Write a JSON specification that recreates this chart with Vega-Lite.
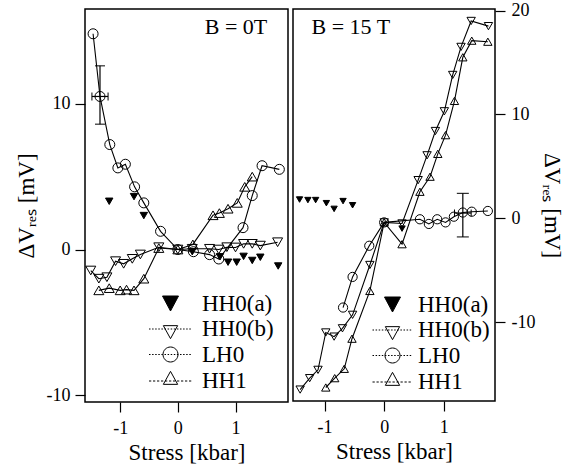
{
  "$schema": "https://vega.github.io/schema/vega-lite/v6.json",
  "background": "white",
  "padding": {"left": 14, "top": 0, "right": 0, "bottom": 0},
  "spacing": 5,
  "bounds": "flush",
  "datasets": {
    "pts": [
      {"panel":"0T","series":"HH0(a)","x":-1.19,"y":3.31},
      {"panel":"0T","series":"HH0(a)","x":-0.76,"y":3.63},
      {"panel":"0T","series":"HH0(a)","x":-0.59,"y":2.33},
      {"panel":"0T","series":"HH0(a)","x":0.25,"y":-0.15},
      {"panel":"0T","series":"HH0(a)","x":0.73,"y":-0.5},
      {"panel":"0T","series":"HH0(a)","x":0.87,"y":-0.87},
      {"panel":"0T","series":"HH0(a)","x":1.02,"y":-0.87},
      {"panel":"0T","series":"HH0(a)","x":1.14,"y":-0.47},
      {"panel":"0T","series":"HH0(a)","x":1.29,"y":-0.75},
      {"panel":"0T","series":"HH0(a)","x":1.43,"y":-0.53},
      {"panel":"0T","series":"HH0(a)","x":1.74,"y":-1.13},
      {"panel":"0T","series":"HH0(b)","x":-1.51,"y":-1.44},
      {"panel":"0T","series":"HH0(b)","x":-1.37,"y":-2.0},
      {"panel":"0T","series":"HH0(b)","x":-1.23,"y":-1.9},
      {"panel":"0T","series":"HH0(b)","x":-1.08,"y":-0.8},
      {"panel":"0T","series":"HH0(b)","x":-0.94,"y":-0.98},
      {"panel":"0T","series":"HH0(b)","x":-0.79,"y":-0.64},
      {"panel":"0T","series":"HH0(b)","x":-0.65,"y":-0.34},
      {"panel":"0T","series":"HH0(b)","x":-0.33,"y":0.16},
      {"panel":"0T","series":"HH0(b)","x":0,"y":0},
      {"panel":"0T","series":"HH0(b)","x":0.25,"y":0.05},
      {"panel":"0T","series":"HH0(b)","x":0.55,"y":0.05},
      {"panel":"0T","series":"HH0(b)","x":0.71,"y":0},
      {"panel":"0T","series":"HH0(b)","x":0.85,"y":0.16},
      {"panel":"0T","series":"HH0(b)","x":1.0,"y":0.14},
      {"panel":"0T","series":"HH0(b)","x":1.14,"y":0.39},
      {"panel":"0T","series":"HH0(b)","x":1.29,"y":0.39},
      {"panel":"0T","series":"HH0(b)","x":1.43,"y":0.27},
      {"panel":"0T","series":"HH0(b)","x":1.73,"y":0.5},
      {"panel":"0T","series":"LH0","x":-1.47,"y":14.8},
      {"panel":"0T","series":"LH0","x":-1.35,"y":10.5},
      {"panel":"0T","series":"LH0","x":-1.18,"y":7.2},
      {"panel":"0T","series":"LH0","x":-1.04,"y":5.6},
      {"panel":"0T","series":"LH0","x":-0.91,"y":5.85},
      {"panel":"0T","series":"LH0","x":-0.75,"y":4.3},
      {"panel":"0T","series":"LH0","x":-0.59,"y":3.2},
      {"panel":"0T","series":"LH0","x":-0.3,"y":1.25},
      {"panel":"0T","series":"LH0","x":0,"y":0},
      {"panel":"0T","series":"LH0","x":0.27,"y":-0.15},
      {"panel":"0T","series":"LH0","x":0.55,"y":-0.35},
      {"panel":"0T","series":"LH0","x":0.71,"y":-0.65},
      {"panel":"0T","series":"LH0","x":1.13,"y":1.5},
      {"panel":"0T","series":"LH0","x":1.29,"y":3.7},
      {"panel":"0T","series":"LH0","x":1.46,"y":5.75},
      {"panel":"0T","series":"LH0","x":1.76,"y":5.5},
      {"panel":"0T","series":"HH1","x":-1.37,"y":-2.8},
      {"panel":"0T","series":"HH1","x":-1.19,"y":-2.65},
      {"panel":"0T","series":"HH1","x":-1.0,"y":-2.8},
      {"panel":"0T","series":"HH1","x":-0.89,"y":-2.75},
      {"panel":"0T","series":"HH1","x":-0.76,"y":-2.8},
      {"panel":"0T","series":"HH1","x":-0.59,"y":-2.0},
      {"panel":"0T","series":"HH1","x":-0.33,"y":0.1},
      {"panel":"0T","series":"HH1","x":0,"y":0},
      {"panel":"0T","series":"HH1","x":0.26,"y":0.35},
      {"panel":"0T","series":"HH1","x":0.61,"y":2.35},
      {"panel":"0T","series":"HH1","x":0.72,"y":2.5},
      {"panel":"0T","series":"HH1","x":0.87,"y":2.8},
      {"panel":"0T","series":"HH1","x":1.03,"y":3.2},
      {"panel":"0T","series":"HH1","x":1.16,"y":4.3},
      {"panel":"0T","series":"HH1","x":1.29,"y":5.0},
      {"panel":"15T","series":"HH0(a)","x":-1.42,"y":1.8},
      {"panel":"15T","series":"HH0(a)","x":-1.28,"y":1.75},
      {"panel":"15T","series":"HH0(a)","x":-1.15,"y":1.75},
      {"panel":"15T","series":"HH0(a)","x":-0.97,"y":1.45},
      {"panel":"15T","series":"HH0(a)","x":-0.84,"y":0.9},
      {"panel":"15T","series":"HH0(a)","x":-0.69,"y":1.65},
      {"panel":"15T","series":"HH0(a)","x":-0.53,"y":1.25},
      {"panel":"15T","series":"HH0(a)","x":0.3,"y":-1.0},
      {"panel":"15T","series":"HH0(b)","x":-1.41,"y":-16.5},
      {"panel":"15T","series":"HH0(b)","x":-1.25,"y":-15.4},
      {"panel":"15T","series":"HH0(b)","x":-1.11,"y":-14.6},
      {"panel":"15T","series":"HH0(b)","x":-0.98,"y":-11.0},
      {"panel":"15T","series":"HH0(b)","x":-0.84,"y":-11.4},
      {"panel":"15T","series":"HH0(b)","x":-0.7,"y":-10.6},
      {"panel":"15T","series":"HH0(b)","x":-0.53,"y":-9.3},
      {"panel":"15T","series":"HH0(b)","x":-0.24,"y":-4.5},
      {"panel":"15T","series":"HH0(b)","x":0,"y":-0.4},
      {"panel":"15T","series":"HH0(b)","x":0.3,"y":-0.5},
      {"panel":"15T","series":"HH0(b)","x":0.57,"y":3.67},
      {"panel":"15T","series":"HH0(b)","x":0.72,"y":6.06},
      {"panel":"15T","series":"HH0(b)","x":0.86,"y":8.4},
      {"panel":"15T","series":"HH0(b)","x":1.01,"y":10.3},
      {"panel":"15T","series":"HH0(b)","x":1.15,"y":13.8},
      {"panel":"15T","series":"HH0(b)","x":1.29,"y":16.5},
      {"panel":"15T","series":"HH0(b)","x":1.46,"y":19.0},
      {"panel":"15T","series":"HH0(b)","x":1.75,"y":18.5},
      {"panel":"15T","series":"LH0","x":-0.69,"y":-8.6},
      {"panel":"15T","series":"LH0","x":-0.53,"y":-5.65},
      {"panel":"15T","series":"LH0","x":-0.25,"y":-2.65},
      {"panel":"15T","series":"LH0","x":0,"y":-0.4},
      {"panel":"15T","series":"LH0","x":0.6,"y":-0.1},
      {"panel":"15T","series":"LH0","x":0.75,"y":-0.55},
      {"panel":"15T","series":"LH0","x":0.89,"y":-0.1},
      {"panel":"15T","series":"LH0","x":1.03,"y":-0.4},
      {"panel":"15T","series":"LH0","x":1.17,"y":0.15},
      {"panel":"15T","series":"LH0","x":1.32,"y":0.55},
      {"panel":"15T","series":"LH0","x":1.47,"y":0.63},
      {"panel":"15T","series":"LH0","x":1.74,"y":0.7},
      {"panel":"15T","series":"HH1","x":-0.98,"y":-16.3},
      {"panel":"15T","series":"HH1","x":-0.83,"y":-15.4},
      {"panel":"15T","series":"HH1","x":-0.67,"y":-14.5},
      {"panel":"15T","series":"HH1","x":-0.54,"y":-11.6},
      {"panel":"15T","series":"HH1","x":-0.24,"y":-7.0},
      {"panel":"15T","series":"HH1","x":0,"y":-0.4},
      {"panel":"15T","series":"HH1","x":0.3,"y":-2.5},
      {"panel":"15T","series":"HH1","x":0.6,"y":2.55},
      {"panel":"15T","series":"HH1","x":0.77,"y":4.0},
      {"panel":"15T","series":"HH1","x":0.9,"y":6.2},
      {"panel":"15T","series":"HH1","x":1.03,"y":8.0},
      {"panel":"15T","series":"HH1","x":1.18,"y":11.3},
      {"panel":"15T","series":"HH1","x":1.32,"y":15.5},
      {"panel":"15T","series":"HH1","x":1.47,"y":17.1},
      {"panel":"15T","series":"HH1","x":1.74,"y":17.0}
    ],
    "err": [
      {"panel":"0T","x":-1.35,"y":10.5,"ylo":8.6,"yhi":12.6,"xlo":-1.49,"xhi":-1.21},
      {"panel":"15T","x":1.32,"y":0.5,"ylo":-1.8,"yhi":2.4,"xlo":1.18,"xhi":1.46}
    ]
  },
  "hconcat": [
    {
      "width": 203,
      "height": 393,
      "layer": [
        {
          "data": {"name": "pts"},
          "transform": [{"filter": "datum.panel==='0T' && datum.series!=='HH0(a)'"}],
          "mark": {"type": "line", "color": "black", "strokeWidth": 1.1},
          "encoding": {
            "x": {"field": "x", "type": "quantitative", "scale": {"domain": [-1.61, 1.91], "nice": false, "zero": false}, "axis": {"values": [-1, 0, 1], "labelExpr": "datum.value < 0 ? '-' + abs(datum.value) : '' + datum.value", "labelPadding": 7, "titlePadding": 4}, "title": "Stress [kbar]"},
            "y": {"field": "y", "type": "quantitative", "scale": {"domain": [-10.46, 16.5], "nice": false, "zero": false}, "axis": {"values": [-10, 0, 10], "labelExpr": "datum.value < 0 ? '-' + abs(datum.value) : '' + datum.value", "labelPadding": 5, "titlePadding": 8}, "title": "ΔVᵣₑₛ [mV]"},
            "detail": {"field": "series"}
          }
        },
        {
          "data": {"name": "pts"},
          "transform": [{"filter": "datum.panel==='0T'"}],
          "mark": {"type": "point", "filled": true, "stroke": "black", "strokeWidth": 1, "opacity": 1},
          "encoding": {
            "x": {"field": "x", "type": "quantitative", "scale": {"domain": [-1.61, 1.91], "nice": false, "zero": false}, "title": "Stress [kbar]"},
            "y": {"field": "y", "type": "quantitative", "scale": {"domain": [-10.46, 16.5], "nice": false, "zero": false}, "title": "ΔVᵣₑₛ [mV]"},
            "shape": {"condition": [{"test": "datum.series==='LH0'", "value": "circle"}, {"test": "datum.series==='HH1'", "value": "triangle-up"}], "value": "triangle-down"},
            "fill": {"condition": {"test": "datum.series==='HH0(a)'", "value": "black"}, "value": "transparent"},
            "size": {"condition": {"test": "datum.series==='HH0(a)'", "value": 55}, "value": 100}
          }
        },
        {
          "data": {"name": "pts"},
          "transform": [{"filter": "false"}],
          "mark": {"type": "point", "filled": true, "stroke": "black", "strokeWidth": 1, "opacity": 1},
          "encoding": {
            "x": {"field": "x", "type": "quantitative", "scale": {"domain": [-1.61, 1.91], "nice": false, "zero": false}, "title": "Stress [kbar]"},
            "y": {"field": "y", "type": "quantitative", "scale": {"domain": [-10.46, 16.5], "nice": false, "zero": false}, "title": "ΔVᵣₑₛ [mV]"},
            "shape": {
              "field": "series", "type": "nominal",
              "scale": {"domain": ["HH0(a)", "HH0(b)", "LH0", "HH1"], "range": [
                "M-1.6,-1.5L1.6,-1.5L0,1.5Z",
                "M-1.43,-0.67L1.43,-0.67L0,1.93ZM-4.3,0h0.3M-3.68,0h0.3M-3.06,0h0.3M-2.44,0h0.3M-1.82,0h0.3M-1.2,0h0.3M-0.58,0h0.3M0.04,0h0.3M0.66,0h0.3M1.28,0h0.3M1.9,0h0.3M2.52,0h0.3M3.14,0h0.3M3.76,0h0.3",
                "M-1.5,0A1.5,1.5,0,1,1,1.5,0A1.5,1.5,0,1,1,-1.5,0ZM-4.3,0h0.3M-3.68,0h0.3M-3.06,0h0.3M-2.44,0h0.3M-1.82,0h0.3M-1.2,0h0.3M-0.58,0h0.3M0.04,0h0.3M0.66,0h0.3M1.28,0h0.3M1.9,0h0.3M2.52,0h0.3M3.14,0h0.3M3.76,0h0.3",
                "M-1.43,0.67L1.43,0.67L0,-1.93ZM-4.3,0h0.45M-3.5,0h0.45M-2.7,0h0.45M-1.9,0h0.45M-1.1,0h0.45M-0.3,0h0.45M0.5,0h0.45M1.3,0h0.45M2.1,0h0.45M2.9,0h0.45M3.7,0h0.45"
              ]},
              "legend": {
                "orient": "none", "legendX": 74, "legendY": 283, "title": null, "padding": 0,
                "symbolSize": 100, "symbolStrokeWidth": 1, "labelOffset": 20, "rowPadding": 1.5,
                "labelFont": "Liberation Serif", "labelFontSize": 23, "labelColor": "black"
              }
            },
            "fill": {
              "field": "series", "type": "nominal",
              "scale": {"domain": ["HH0(a)", "HH0(b)", "LH0", "HH1"], "range": ["black", "transparent", "transparent", "transparent"]},
              "legend": {
                "orient": "none", "legendX": 74, "legendY": 283, "title": null, "padding": 0,
                "symbolSize": 100, "symbolStrokeWidth": 1, "labelOffset": 20, "rowPadding": 1.5,
                "labelFont": "Liberation Serif", "labelFontSize": 23, "labelColor": "black"
              }
            }
          }
        },
        {
          "data": {"name": "err"},
          "transform": [{"filter": "datum.panel==='0T'"}],
          "mark": {"type": "errorbar", "ticks": {"size": 10, "color": "black", "opacity": 1}, "rule": {"color": "black", "opacity": 1, "strokeWidth": 1.2}, "color": "black"},
          "encoding": {
            "x": {"field": "x", "type": "quantitative", "scale": {"domain": [-1.61, 1.91], "nice": false, "zero": false}, "title": "Stress [kbar]"},
            "y": {"field": "ylo", "type": "quantitative", "scale": {"domain": [-10.46, 16.5], "nice": false, "zero": false}, "title": "ΔVᵣₑₛ [mV]"},
            "y2": {"field": "yhi"}
          }
        },
        {
          "data": {"name": "err"},
          "transform": [{"filter": "datum.panel==='0T'"}],
          "mark": {"type": "errorbar", "ticks": {"size": 8, "color": "black", "opacity": 1}, "rule": {"color": "black", "opacity": 1, "strokeWidth": 1.2}, "color": "black"},
          "encoding": {
            "x": {"field": "xlo", "type": "quantitative", "scale": {"domain": [-1.61, 1.91], "nice": false, "zero": false}, "title": "Stress [kbar]"},
            "x2": {"field": "xhi"},
            "y": {"field": "y", "type": "quantitative", "scale": {"domain": [-10.46, 16.5], "nice": false, "zero": false}, "title": "ΔVᵣₑₛ [mV]"}
          }
        },
        {
          "data": {"values": [{"label": "B = 0T", "x": 1.55, "y": 14.8}]},
          "mark": {"type": "text", "align": "right", "baseline": "alphabetic", "font": "Liberation Serif", "fontSize": 22, "color": "black"},
          "encoding": {
            "x": {"field": "x", "type": "quantitative", "scale": {"domain": [-1.61, 1.91], "nice": false, "zero": false}, "title": "Stress [kbar]"},
            "y": {"field": "y", "type": "quantitative", "scale": {"domain": [-10.46, 16.5], "nice": false, "zero": false}, "title": "ΔVᵣₑₛ [mV]"},
            "text": {"field": "label"}
          }
        }
      ],
      "resolve": {"scale": {"shape": "shared", "fill": "shared"}}
    },
    {
      "width": 202,
      "height": 392,
      "layer": [
        {
          "data": {"name": "pts"},
          "transform": [{"filter": "datum.panel==='15T' && datum.series!=='HH0(a)'"}],
          "mark": {"type": "line", "color": "black", "strokeWidth": 1.1},
          "encoding": {
            "x": {"field": "x", "type": "quantitative", "scale": {"domain": [-1.53, 1.86], "nice": false, "zero": false}, "axis": {"values": [-1, 0, 1], "labelExpr": "datum.value < 0 ? '-' + abs(datum.value) : '' + datum.value", "labelPadding": 7, "titlePadding": 4}, "title": "Stress [kbar]"},
            "y": {"field": "y", "type": "quantitative", "scale": {"domain": [-17.6, 20.15], "nice": false, "zero": false}, "axis": {"orient": "right", "values": [-10, 0, 10, 20], "labelExpr": "datum.value < 0 ? '-' + abs(datum.value) : '' + datum.value", "labelAlign": "left", "labelPadding": 6, "titleAngle": 90, "titlePadding": 5}, "title": "ΔVᵣₑₛ [mV]"},
            "detail": {"field": "series"}
          }
        },
        {
          "data": {"name": "pts"},
          "transform": [{"filter": "datum.panel==='15T'"}],
          "mark": {"type": "point", "filled": true, "stroke": "black", "strokeWidth": 1, "opacity": 1},
          "encoding": {
            "x": {"field": "x", "type": "quantitative", "scale": {"domain": [-1.53, 1.86], "nice": false, "zero": false}, "title": "Stress [kbar]"},
            "y": {"field": "y", "type": "quantitative", "scale": {"domain": [-17.6, 20.15], "nice": false, "zero": false}, "title": "ΔVᵣₑₛ [mV]"},
            "shape": {"condition": [{"test": "datum.series==='LH0'", "value": "circle"}, {"test": "datum.series==='HH1'", "value": "triangle-up"}], "value": "triangle-down"},
            "fill": {"condition": {"test": "datum.series==='HH0(a)'", "value": "black"}, "value": "transparent"},
            "size": {"condition": [{"test": "datum.series==='HH0(a)'", "value": 40}, {"test": "datum.series==='LH0'", "value": 85}], "value": 70}
          }
        },
        {
          "data": {"name": "pts"},
          "transform": [{"filter": "false"}],
          "mark": {"type": "point", "filled": true, "stroke": "black", "strokeWidth": 1, "opacity": 1},
          "encoding": {
            "x": {"field": "x", "type": "quantitative", "scale": {"domain": [-1.53, 1.86], "nice": false, "zero": false}, "title": "Stress [kbar]"},
            "y": {"field": "y", "type": "quantitative", "scale": {"domain": [-17.6, 20.15], "nice": false, "zero": false}, "title": "ΔVᵣₑₛ [mV]"},
            "shape": {
              "field": "series", "type": "nominal",
              "scale": {"domain": ["HH0(a)", "HH0(b)", "LH0", "HH1"], "range": [
                "M-1.6,-1.5L1.6,-1.5L0,1.5Z",
                "M-1.43,-0.67L1.43,-0.67L0,1.93ZM-4.0,0h0.3M-3.38,0h0.3M-2.76,0h0.3M-2.14,0h0.3M-1.52,0h0.3M-0.9,0h0.3M-0.28,0h0.3M0.34,0h0.3M0.96,0h0.3M1.58,0h0.3M2.2,0h0.3M2.82,0h0.3M3.44,0h0.3",
                "M-1.5,0A1.5,1.5,0,1,1,1.5,0A1.5,1.5,0,1,1,-1.5,0ZM-4.0,0h0.3M-3.38,0h0.3M-2.76,0h0.3M-2.14,0h0.3M-1.52,0h0.3M-0.9,0h0.3M-0.28,0h0.3M0.34,0h0.3M0.96,0h0.3M1.58,0h0.3M2.2,0h0.3M2.82,0h0.3M3.44,0h0.3",
                "M-1.43,0.67L1.43,0.67L0,-1.93ZM-4.0,0h0.45M-3.2,0h0.45M-2.4,0h0.45M-1.6,0h0.45M-0.8,0h0.45M0,0h0.45M0.8,0h0.45M1.6,0h0.45M2.4,0h0.45M3.2,0h0.45"
              ]},
              "legend": {
                "orient": "none", "legendX": 88, "legendY": 284, "title": null, "padding": 0,
                "symbolSize": 100, "symbolStrokeWidth": 1, "labelOffset": 14, "rowPadding": 1.5,
                "labelFont": "Liberation Serif", "labelFontSize": 23, "labelColor": "black"
              }
            },
            "fill": {
              "field": "series", "type": "nominal",
              "scale": {"domain": ["HH0(a)", "HH0(b)", "LH0", "HH1"], "range": ["black", "transparent", "transparent", "transparent"]},
              "legend": {
                "orient": "none", "legendX": 88, "legendY": 284, "title": null, "padding": 0,
                "symbolSize": 100, "symbolStrokeWidth": 1, "labelOffset": 14, "rowPadding": 1.5,
                "labelFont": "Liberation Serif", "labelFontSize": 23, "labelColor": "black"
              }
            }
          }
        },
        {
          "data": {"name": "err"},
          "transform": [{"filter": "datum.panel==='15T'"}],
          "mark": {"type": "errorbar", "ticks": {"size": 12, "color": "black", "opacity": 1}, "rule": {"color": "black", "opacity": 1, "strokeWidth": 1.2}, "color": "black"},
          "encoding": {
            "x": {"field": "x", "type": "quantitative", "scale": {"domain": [-1.53, 1.86], "nice": false, "zero": false}, "title": "Stress [kbar]"},
            "y": {"field": "ylo", "type": "quantitative", "scale": {"domain": [-17.6, 20.15], "nice": false, "zero": false}, "title": "ΔVᵣₑₛ [mV]"},
            "y2": {"field": "yhi"}
          }
        },
        {
          "data": {"name": "err"},
          "transform": [{"filter": "datum.panel==='15T'"}],
          "mark": {"type": "errorbar", "ticks": {"size": 7, "color": "black", "opacity": 1}, "rule": {"color": "black", "opacity": 1, "strokeWidth": 1.2}, "color": "black"},
          "encoding": {
            "x": {"field": "xlo", "type": "quantitative", "scale": {"domain": [-1.53, 1.86], "nice": false, "zero": false}, "title": "Stress [kbar]"},
            "x2": {"field": "xhi"},
            "y": {"field": "y", "type": "quantitative", "scale": {"domain": [-17.6, 20.15], "nice": false, "zero": false}, "title": "ΔVᵣₑₛ [mV]"}
          }
        },
        {
          "data": {"values": [{"label": "B = 15 T", "x": -1.22, "y": 17.73}]},
          "mark": {"type": "text", "align": "left", "baseline": "alphabetic", "font": "Liberation Serif", "fontSize": 22, "color": "black"},
          "encoding": {
            "x": {"field": "x", "type": "quantitative", "scale": {"domain": [-1.53, 1.86], "nice": false, "zero": false}, "title": "Stress [kbar]"},
            "y": {"field": "y", "type": "quantitative", "scale": {"domain": [-17.6, 20.15], "nice": false, "zero": false}, "title": "ΔVᵣₑₛ [mV]"},
            "text": {"field": "label"}
          }
        }
      ],
      "resolve": {"scale": {"shape": "shared", "fill": "shared"}}
    }
  ],
  "resolve": {"scale": {"shape": "independent", "fill": "independent", "x": "independent", "y": "independent"}, "legend": {"shape": "independent", "fill": "independent"}},
  "config": {
    "view": {"stroke": "black", "strokeWidth": 1.5},
    "axis": {
      "grid": false, "domain": false, "tickColor": "black", "tickSize": 10, "tickWidth": 1.2,
      "labelColor": "black", "titleColor": "black",
      "labelFont": "Liberation Serif", "titleFont": "Liberation Serif",
      "labelFontSize": 18, "titleFontSize": 23, "titleFontWeight": "normal"
    }
  }
}
